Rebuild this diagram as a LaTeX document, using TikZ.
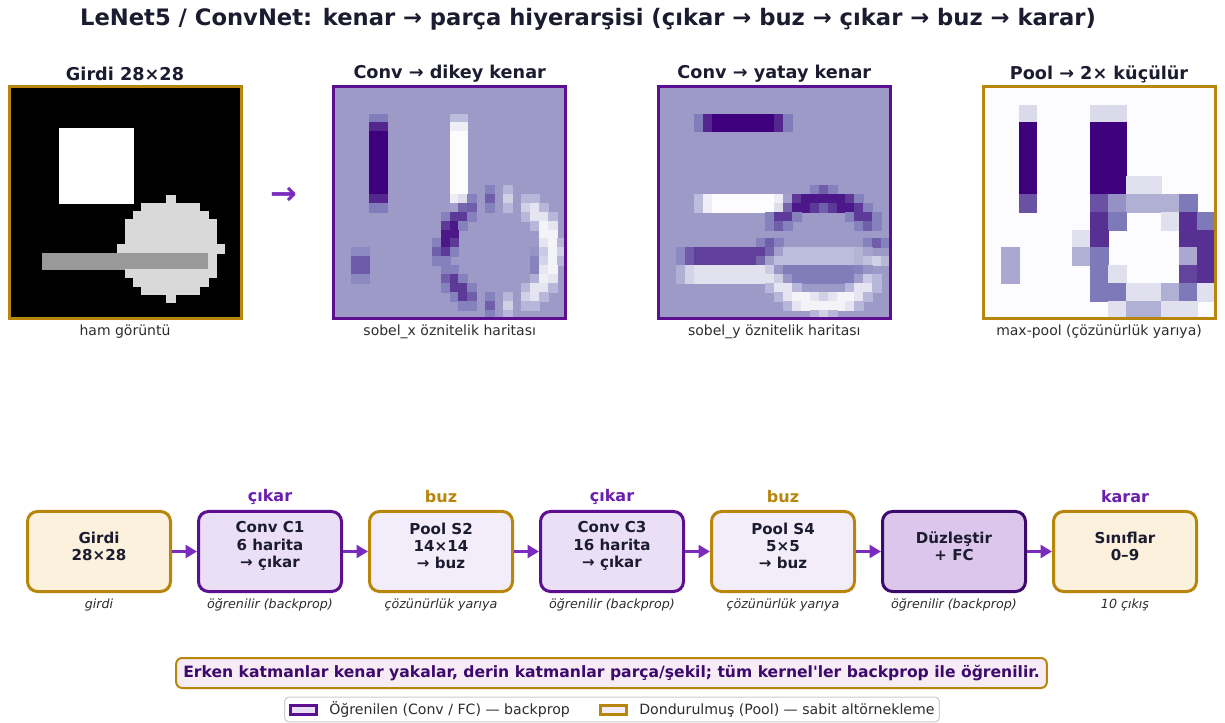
\documentclass[tikz,border=0pt]{standalone}
\usepackage{fontspec}
\setmainfont{DejaVu Sans}
\usetikzlibrary{arrows.meta}

% palette
\definecolor{goldc}{RGB}{184,134,11}
\definecolor{purpc}{RGB}{92,16,145}
\definecolor{fcedge}{RGB}{60,9,108}
\definecolor{flowc}{RGB}{123,44,191}
\definecolor{takec}{RGB}{108,30,172}
\definecolor{inkc}{RGB}{28,28,48}
\definecolor{subc}{RGB}{45,45,45}
\definecolor{notec}{RGB}{60,9,108}
\definecolor{creamf}{RGB}{251,241,221}
\definecolor{convf}{RGB}{235,223,245}
\definecolor{poolf}{RGB}{243,237,249}
\definecolor{fcf}{RGB}{220,198,236}
\definecolor{notef}{RGB}{247,236,246}
\definecolor{legedge}{RGB}{204,204,204}
% Purples colour map, nine stops
\definecolor{pc0}{HTML}{FCFBFD}
\definecolor{pc1}{HTML}{EFEDF5}
\definecolor{pc2}{HTML}{DADAEB}
\definecolor{pc3}{HTML}{BCBDDC}
\definecolor{pc4}{HTML}{9E9AC8}
\definecolor{pc5}{HTML}{807DBA}
\definecolor{pc6}{HTML}{6A51A3}
\definecolor{pc7}{HTML}{54278F}
\definecolor{pc8}{HTML}{3F007D}

% stored pixel values of the input image and of the sobel_x map
\newcommand\imv[2]{\csname im@\the\numexpr#1\relax @\the\numexpr#2\relax\endcsname}
\newcommand\gxv[2]{\csname gx@\the\numexpr#1\relax @\the\numexpr#2\relax\endcsname}
% position 0..8 on the colour map -> colour cellc
\newcommand\mapcolor[1]{%
  \pgfmathtruncatemacro\segk{min(floor(#1),7)}%
  \pgfmathtruncatemacro\segp{round(100*(1-((#1)-\segk)))}%
  \pgfmathtruncatemacro\segn{\segk+1}%
  \colorlet{cellc}{pc\segk!\segp!pc\segn}}

\tikzset{
  cell/.style={fill=cellc, draw=cellc, line width=0.3pt},
  ptitle/.style={font=\bfseries\fontsize{13.25}{15}\selectfont, text=inkc},
  pnote/.style={font=\fontsize{10.5}{12}\selectfont, text=subc},
  stage/.style={rounded corners=7.5pt, line width=2.25pt, minimum width=107.25pt,
    minimum height=60pt, inner sep=0pt},
  stagetxt/.style={font=\bfseries\fontsize{11.3}{12.9}\selectfont, text=inkc, align=center},
  tag/.style={font=\bfseries\fontsize{12}{14}\selectfont},
  sub/.style={font=\itshape\fontsize{9.5}{11}\selectfont, text=subc},
  flow/.style={draw=flowc, line width=2.6pt, -{Triangle[length=8.5pt,width=9.5pt]}},
  swatch/.style={line width=2.25pt, minimum width=19.5pt, minimum height=6.75pt, inner sep=0pt},
  legtxt/.style={font=\fontsize{10.6}{12}\selectfont, text=subc, anchor=west, inner sep=0pt},
}

\begin{document}
\begin{tikzpicture}[x=0.75pt,y=-0.75pt]
\useasboundingbox (0,0) rectangle (1225,723);
\fill[white] (0,0) rectangle (1225,723);

% ---------- title ----------
\node[font=\bfseries\fontsize{17}{20}\selectfont, text=inkc] (title) at (588,19)
  {LeNet5 / ConvNet: kenar → parça hiyerarşisi (çıkar → buz → çıkar → buz → karar)};

% ---------- input image 28x28 ----------
\fill[black] (9,87) rectangle ++(232,232);
\foreach \ri in {0,...,27}{\foreach \ci in {0,...,27}{
  \pgfmathsetmacro\val{(\ri>=5 && \ri<=13 && \ci>=6 && \ci<=14) ? 1 : ((\ri>=20 && \ri<=21 && \ci>=4 && \ci<=23) ? 0.6 : ((((\ri-19)*(\ri-19)+(\ci-19)*(\ci-19))<=36) ? 0.85 : 0))}
  \expandafter\xdef\csname im@\ri @\ci\endcsname{\val}
  \ifdim\val pt>0pt
    \pgfmathtruncatemacro\grey{round(100*\val)}
    \colorlet{cellc}{white!\grey!black}
    \path[cell] ({9+\ci*232/28},{87+\ri*232/28}) rectangle ++(232/28,232/28);
  \fi
}}

% ---------- sobel_x and sobel_y maps 26x26 ----------
\fill[pc4] (333.7,87) rectangle ++(232,232);
\fill[pc4] (658.3,87) rectangle ++(232,232);
\foreach \ri in {0,...,25}{\foreach \ci in {0,...,25}{
  \edef\cellexpr{(\imv{\ri}{\ci+2}-\imv{\ri}{\ci})+2*(\imv{\ri+1}{\ci+2}-\imv{\ri+1}{\ci})+(\imv{\ri+2}{\ci+2}-\imv{\ri+2}{\ci})}
  \pgfmathsetmacro\gx{\cellexpr}
  \expandafter\xdef\csname gx@\ri @\ci\endcsname{\gx}
  \ifdim\gx pt=0pt\else
    \pgfmathsetmacro\cpos{max(0,min(8,4+(\gx)))}
    \mapcolor{\cpos}
    \path[cell] ({333.7+\ci*232/26},{87+\ri*232/26}) rectangle ++(232/26,232/26);
  \fi
  \edef\cellexpr{(\imv{\ri+2}{\ci}-\imv{\ri}{\ci})+2*(\imv{\ri+2}{\ci+1}-\imv{\ri}{\ci+1})+(\imv{\ri+2}{\ci+2}-\imv{\ri}{\ci+2})}
  \pgfmathsetmacro\gy{\cellexpr}
  \ifdim\gy pt=0pt\else
    \pgfmathsetmacro\cpos{max(0,min(8,4+(\gy)))}
    \mapcolor{\cpos}
    \path[cell] ({658.3+\ci*232/26},{87+\ri*232/26}) rectangle ++(232/26,232/26);
  \fi
}}

% ---------- max-pool of |sobel_x|, 13x13 ----------
\fill[pc0] (983,87) rectangle ++(232,232);
\foreach \ri in {0,...,12}{\foreach \ci in {0,...,12}{
  \edef\cellexpr{max(abs(\gxv{2*\ri}{2*\ci}),abs(\gxv{2*\ri}{2*\ci+1}),abs(\gxv{2*\ri+1}{2*\ci}),abs(\gxv{2*\ri+1}{2*\ci+1}))}
  \pgfmathsetmacro\poolv{\cellexpr}
  \ifdim\poolv pt>0pt
    \pgfmathsetmacro\cpos{max(0,min(8,2*\poolv))}
    \mapcolor{\cpos}
    \path[cell] ({983+\ci*232/13},{87+\ri*232/13}) rectangle ++(232/13,232/13);
  \fi
}}

% ---------- panel frames, titles, notes ----------
\draw[goldc, line width=2.25pt] (9,87) rectangle ++(232,232);
\draw[purpc, line width=2.25pt] (333.7,87) rectangle ++(232,232);
\draw[purpc, line width=2.25pt] (658.3,87) rectangle ++(232,232);
\draw[goldc, line width=2.25pt] (983,87) rectangle ++(232,232);

\node[ptitle] (pt1) at (125,74) {Girdi 28×28};
\node[ptitle] (pt2) at (449.7,74) {Conv → dikey kenar};
\node[ptitle] (pt3) at (774.3,74) {Conv → yatay kenar};
\node[ptitle] (pt4) at (1099,74) {Pool → 2× küçülür};

\node[pnote] (pn1) at (125,332) {ham görüntü};
\node[pnote] (pn2) at (449.7,332) {sobel\_x öznitelik haritası};
\node[pnote] (pn3) at (774.3,332) {sobel\_y öznitelik haritası};
\node[pnote] (pn4) at (1099,332) {max-pool (çözünürlük yarıya)};

\node[font=\bfseries\fontsize{24}{26}\selectfont, text=flowc] (bigarrow) at (284,196) {→};

% ---------- pipeline ----------
\node[stage, draw=goldc, fill=creamf] (b1) at (99,551.5) {};
\node[stage, draw=purpc, fill=convf]  (b2) at (270,551.5) {};
\node[stage, draw=goldc, fill=poolf]  (b3) at (441,551.5) {};
\node[stage, draw=purpc, fill=convf]  (b4) at (612,551.5) {};
\node[stage, draw=goldc, fill=poolf]  (b5) at (783,551.5) {};
\node[stage, draw=fcedge, fill=fcf]   (b6) at (954,551.5) {};
\node[stage, draw=goldc, fill=creamf] (b7) at (1125,551.5) {};

\node[stagetxt] (s1) at (99,546) {Girdi\\28×28};
\node[stagetxt] (s2) at (270,546) {Conv C1\\6 harita\\→ çıkar};
\node[stagetxt] (s3) at (441,546) {Pool S2\\14×14\\→ buz};
\node[stagetxt] (s4) at (612,546) {Conv C3\\16 harita\\→ çıkar};
\node[stagetxt] (s5) at (783,546) {Pool S4\\5×5\\→ buz};
\node[stagetxt] (s6) at (954,546) {Düzleştir\\+ FC};
\node[stagetxt] (s7) at (1125,546) {Sınıflar\\0–9};

\node[tag, text=takec] (g2) at (270,497) {çıkar};
\node[tag, text=goldc] (g3) at (441,497) {buz};
\node[tag, text=takec] (g4) at (612,497) {çıkar};
\node[tag, text=goldc] (g5) at (783,497) {buz};
\node[tag, text=takec] (g7) at (1125,497) {karar};

\node[sub] (u1) at (99,605) {girdi};
\node[sub] (u2) at (270,605) {öğrenilir (backprop)};
\node[sub] (u3) at (441,605) {çözünürlük yarıya};
\node[sub] (u4) at (612,605) {öğrenilir (backprop)};
\node[sub] (u5) at (783,605) {çözünürlük yarıya};
\node[sub] (u6) at (954,605) {öğrenilir (backprop)};
\node[sub] (u7) at (1125,605) {10 çıkış};

\draw[flow] (b1) -- (b2);
\draw[flow] (b2) -- (b3);
\draw[flow] (b3) -- (b4);
\draw[flow] (b4) -- (b5);
\draw[flow] (b5) -- (b6);
\draw[flow] (b6) -- (b7);

% ---------- summary and legend ----------
\node[draw=goldc, fill=notef, rounded corners=4.5pt, line width=1.5pt,
  minimum width=653pt, minimum height=22.5pt, inner sep=0pt,
  font=\bfseries\fontsize{11.7}{13}\selectfont, text=notec] (note) at (611.5,673)
  {Erken katmanlar kenar yakalar, derin katmanlar parça/şekil; tüm kernel\textquotesingle ler backprop ile öğrenilir.};

\node[draw=legedge, fill=white, rounded corners=3pt, line width=0.8pt,
  minimum width=491pt, minimum height=18.5pt, inner sep=0pt] (legend) at (612,709.5) {};
\node[swatch, draw=purpc, fill=convf] (sw1) at (303.5,710) {};
\node[legtxt] (lt1) at (329,710) {Öğrenilen (Conv / FC) — backprop};
\node[swatch, draw=goldc, fill=poolf] (sw2) at (613,710) {};
\node[legtxt] (lt2) at (639,710) {Dondurulmuş (Pool) — sabit altörnekleme};
\end{tikzpicture}
\end{document}
